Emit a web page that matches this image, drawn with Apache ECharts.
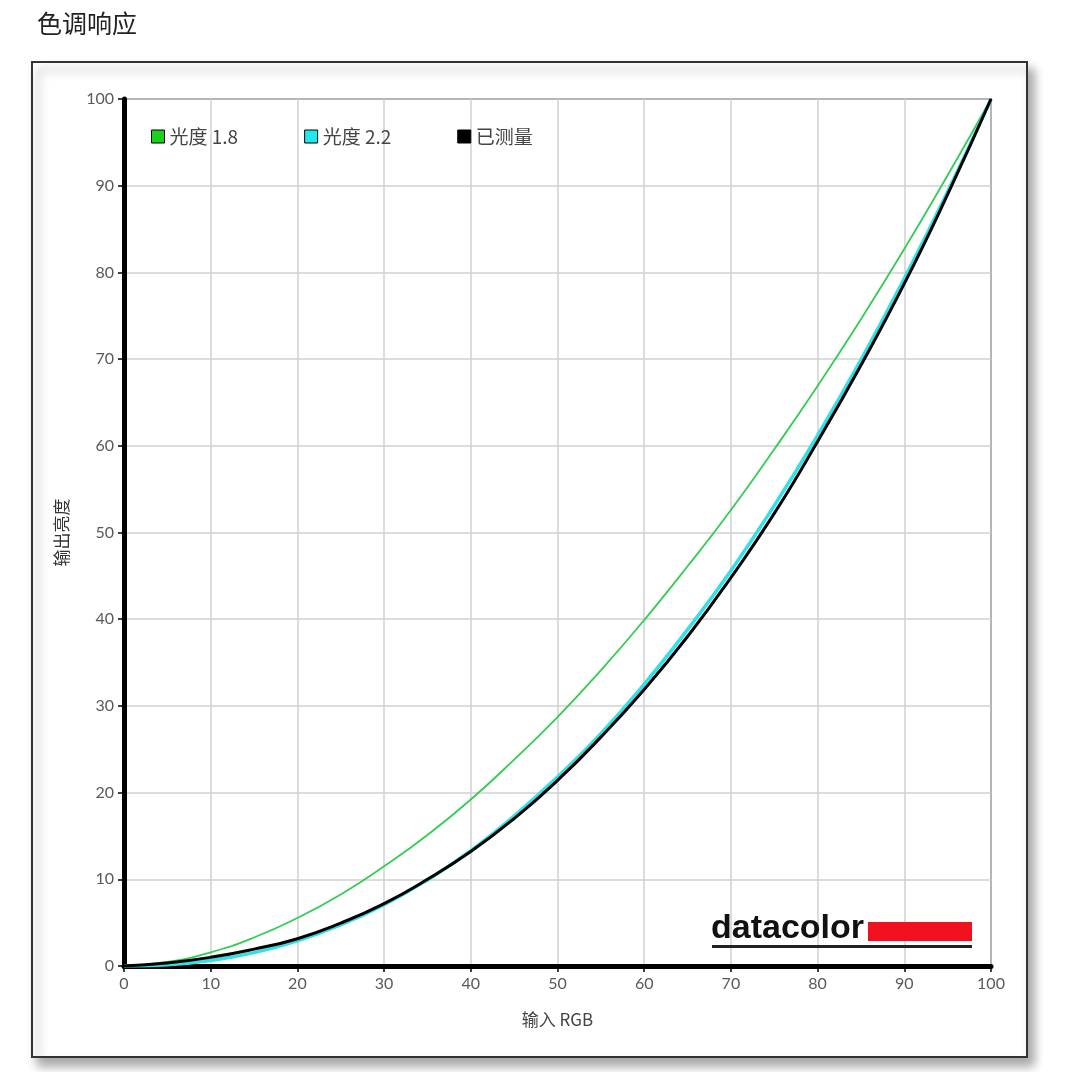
<!DOCTYPE html>
<html>
<head>
<meta charset="UTF-8">
<title>色调响应</title>
<script src="https://cdn.jsdelivr.net/npm/echarts@6/dist/echarts.min.js"></script>
<style>
  html, body { margin: 0; padding: 0; background: #fff; }
  #main { width: 1080px; height: 1072px; }
</style>
</head>
<body>
<div id="main"></div>
<script>
// 输入 RGB (%)
var inputRGB = [0, 5, 10, 15, 20, 25, 30, 35, 40, 45, 50, 55, 60, 65, 70, 75, 80, 85, 90, 95, 100];
// 光度 1.8
var gamma18 = [0, 0.46, 1.58, 3.29, 5.54, 8.25, 11.5, 15.1, 19.2, 23.8, 28.7, 34.1, 39.9, 46.1, 52.6, 59.6, 66.9, 74.6, 82.7, 91.2, 100];
// 光度 2.2
var gamma22 = [0, 0.14, 0.63, 1.54, 2.9, 4.74, 7.07, 9.93, 13.3, 17.3, 21.8, 26.8, 32.5, 38.8, 45.6, 53.1, 61.2, 69.9, 79.3, 89.3, 100];
// 已测量
var measured = [0, 0.35, 1.0, 1.95, 3.15, 4.95, 7.2, 10.0, 13.2, 17.0, 21.4, 26.4, 31.9, 38.0, 44.8, 52.2, 60.5, 69.3, 78.7, 89.0, 100];
var ticks = [0, 10, 20, 30, 40, 50, 60, 70, 80, 90, 100];

function pairs(ys) {
  var out = [];
  for (var i = 0; i < inputRGB.length; i++) out.push([inputRGB[i], ys[i]]);
  return out;
}

var myChart = echarts.init(document.getElementById('main'));

var tickFont = { color: '#5a5a5a', fontSize: 16, fontFamily: 'Lato, "Noto Sans", sans-serif' };

var option = {
  backgroundColor: '#fff',
  animation: false,
  title: {
    text: '色调响应',
    left: 32, top: 6,
    textStyle: { fontSize: 25, fontWeight: 'normal', color: '#222', fontFamily: '"Noto Sans CJK SC", sans-serif' }
  },
  graphic: [
    // 外框 + 阴影
    { type: 'rect', z: -10, shape: { x: 32, y: 62, width: 995, height: 995 },
      style: { fill: '#fff', stroke: '#333', lineWidth: 2, shadowBlur: 10, shadowOffsetX: 6, shadowOffsetY: 8, shadowColor: 'rgba(0,0,0,0.35)' } },
    // datacolor 标志
    { type: 'text', z: 20, style: { x: 711, y: 912, text: 'datacolor', fontSize: 34, fontWeight: 'bold', fill: '#111', fontFamily: '"Liberation Sans", Arial, sans-serif' } },
    { type: 'rect', z: 20, shape: { x: 868, y: 922, width: 104, height: 19 }, style: { fill: '#f0101e' } },
    { type: 'rect', z: 20, shape: { x: 712, y: 945, width: 260, height: 3 }, style: { fill: '#222' } }
  ],
  legend: {
    left: 146, top: 122,
    icon: 'rect',
    itemWidth: 13, itemHeight: 13,
    itemGap: 66,
    itemStyle: { borderColor: '#000', borderWidth: 1 },
    textStyle: { color: '#444', fontSize: 19, fontFamily: '"Noto Sans CJK SC", sans-serif' },
    data: ['光度 1.8', '光度 2.2', '已测量']
  },
  grid: {
    left: 124, top: 99, right: 89, bottom: 106,
    show: true, borderColor: '#333', borderWidth: 1.5, backgroundColor: '#fff'
  },
  xAxis: {
    type: 'value', min: 0, max: 100, interval: 10,
    name: '输入 RGB', nameLocation: 'middle', nameGap: 45,
    nameTextStyle: { color: '#444', fontSize: 17, fontFamily: '"Noto Sans CJK SC", sans-serif' },
    axisLine: { show: true, lineStyle: { color: '#000', width: 5 } },
    axisTick: { show: true, length: 6, lineStyle: { color: '#000', width: 1.5 } },
    axisLabel: Object.assign({ margin: 10, formatter: function (v) { return ticks.indexOf(v) >= 0 ? v : ''; } }, tickFont),
    splitLine: { show: true, lineStyle: { color: '#d0d0d0', width: 1.5 } }
  },
  yAxis: {
    type: 'value', min: 0, max: 100, interval: 10,
    name: '输出亮度', nameLocation: 'middle', nameGap: 54, nameRotate: 90,
    nameTextStyle: { color: '#333', fontSize: 17, fontFamily: '"Noto Sans CJK SC", sans-serif' },
    axisLine: { show: true, lineStyle: { color: '#000', width: 5 } },
    axisTick: { show: true, length: 6, lineStyle: { color: '#000', width: 1.5 } },
    axisLabel: Object.assign({ margin: 10 }, tickFont),
    splitLine: { show: true, lineStyle: { color: '#d0d0d0', width: 1.5 } }
  },
  series: [
    { name: '光度 1.8', type: 'line', smooth: true, showSymbol: false, data: pairs(gamma18),
      color: '#19d219', lineStyle: { color: '#33cc55', width: 1.8 }, z: 3 },
    { name: '光度 2.2', type: 'line', smooth: true, showSymbol: false, data: pairs(gamma22),
      color: '#22e8ee', lineStyle: { color: '#33e0e8', width: 3.5 }, z: 4 },
    { name: '已测量', type: 'line', smooth: true, showSymbol: false, data: pairs(measured),
      color: '#000', lineStyle: { color: '#000', width: 3 }, z: 5 }
  ]
};

myChart.setOption(option);
</script>
</body>
</html>
